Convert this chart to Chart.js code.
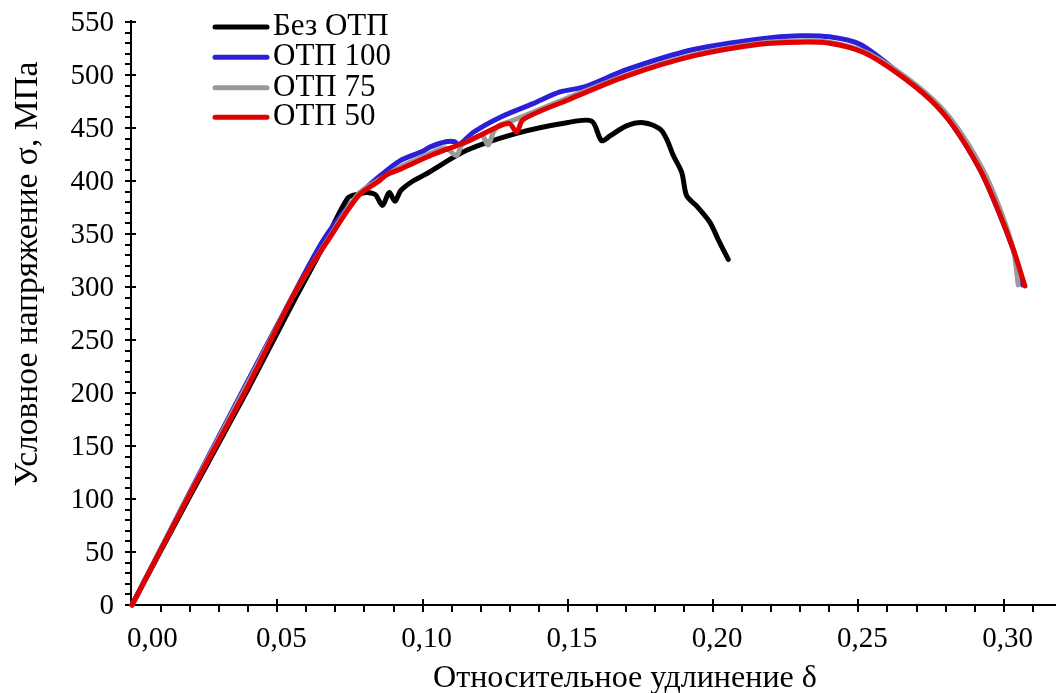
<!DOCTYPE html>
<html><head><meta charset="utf-8">
<script src="https://cdn.jsdelivr.net/npm/chart.js@4/dist/chart.umd.min.js"></script>
<style>html,body{margin:0;padding:0;background:#fff}canvas{display:block}</style>
</head><body>
<canvas id="c" width="1062" height="693"></canvas>
<script>
// ---- data (strain δ, stress σ MPa) ----
const seriesNames = ['Без ОТП', 'ОТП 100', 'ОТП 75', 'ОТП 50'];
const seriesColors = ['#000000', '#2b1fd8', '#9a9a9a', '#e00000'];

const strainBlack = [0,0.02,0.04,0.055,0.065,0.0743,0.0785,0.0815,0.0838,0.0862,0.0885,0.0905,0.0925,0.0967,0.1008,0.1152,0.1324,0.1496,0.1582,0.1616,0.1645,0.1702,0.176,0.1817,0.184,0.1863,0.1892,0.1909,0.1943,0.1989,0.2017,0.2052];
const stressBlack = [0,103,204,283,334,384,388,389,387,377,389,381,391,400,406,429,445,455,456.5,438,442.5,452,455,449,439.5,424,408,386,376.5,361,345,326];

const strainBlue = [0,0.02,0.04,0.055,0.066,0.075,0.08,0.085,0.0922,0.1,0.1025,0.108,0.111,0.1125,0.1175,0.1266,0.138,0.1473,0.156,0.1702,0.1932,0.216,0.2299,0.24,0.2505,0.263,0.2746,0.2826,0.2918,0.2975,0.3033,0.3065];
const stressBlue = [0,107,212,290,345,378,392,404,419,428,432,437,437,434,446,460,473,484,489,505,524,534,537,536,529,504,478,452,411,376,335,302];

const strainGray = [0,0.02,0.04,0.056,0.067,0.078,0.085,0.0922,0.1036,0.108,0.1117,0.1135,0.1175,0.1205,0.1226,0.1245,0.1266,0.13,0.1496,0.1702,0.1932,0.216,0.2299,0.24,0.2526,0.264,0.2756,0.2836,0.2928,0.2983,0.3033,0.305];
const stressGray = [0,106,210,294,343,388,401,413,427,431,424,434,440,443,434,447,453,456,478,500,519,530,532,531,521.5,502.5,477,452,411,376.5,335.5,302];

const strainRed = [0,0.02,0.04,0.0567,0.067,0.0779,0.085,0.0876,0.0922,0.1036,0.1152,0.1266,0.13,0.1324,0.1346,0.1496,0.1702,0.1932,0.216,0.2299,0.24,0.2516,0.263,0.2746,0.2826,0.2918,0.2975,0.3033,0.3073];
const stressRed = [0,105,207,298,342,386,400,406,411,425,437,452,454,446,458,476,499,518,529,531,530,521.5,502.5,477,452,411,376.5,335.5,301];

const xTickValues = [0,0.05,0.10,0.15,0.20,0.25,0.30];
const xTickLabels = ['0,00','0,05','0,10','0,15','0,20','0,25','0,30'];
const yTickValues = [0,50,100,150,200,250,300,350,400,450,500,550];
const yTickLabels = ['0','50','100','150','200','250','300','350','400','450','500','550'];
const xTitle = 'Относительное удлинение δ';
const yTitle = 'Условное напряжение σ, МПа';

const FONT = '"Liberation Serif","Times New Roman",serif';

function pts(xs, ys){ return xs.map((v,i)=>({x:v, y:ys[i]})); }

const dsData = [pts(strainBlack,stressBlack), pts(strainBlue,stressBlue), pts(strainGray,stressGray), pts(strainRed,stressRed)];
const orders = [4,3,2,1];

function fitFont(ctx, text, target){
  ctx.font = '30px ' + FONT;
  const w = ctx.measureText(text).width;
  return 30*target/w;
}

const axesPlugin = {
  id:'axesPlugin',
  beforeDatasetsDraw(chart){
    const {ctx, chartArea:a, scales:{x,y}} = chart;
    const x0 = x.getPixelForValue(0) - 1;
    const y0 = y.getPixelForValue(0);
    ctx.save();
    ctx.strokeStyle = '#000'; ctx.lineWidth = 2; ctx.lineCap='butt';
    ctx.beginPath();
    ctx.moveTo(x0, y0); ctx.lineTo(x0, a.top-2);
    ctx.moveTo(x0, y0); ctx.lineTo(a.right, y0);
    ctx.stroke();
    // y ticks
    ctx.beginPath();
    for (let v=0; v<=550; v+=10){
      const py = Math.round(y.getPixelForValue(v));
      if (v%50===0){ ctx.moveTo(x0-6, py); ctx.lineTo(x0+5, py); }
      else { ctx.moveTo(x0-6, py); ctx.lineTo(x0, py); }
    }
    // x ticks
    for (let i=1; i<=31; i++){
      const v = i/100;
      const px = Math.round(x.getPixelForValue(v));
      if (i%5===0){ ctx.moveTo(px, y0-6); ctx.lineTo(px, y0+7); }
      else { ctx.moveTo(px, y0); ctx.lineTo(px, y0+7); }
    }
    ctx.stroke();
    // labels
    ctx.fillStyle = '#000';
    ctx.font = '29px ' + FONT;
    ctx.textAlign = 'right'; ctx.textBaseline = 'middle';
    yTickValues.forEach((v,i)=>{
      ctx.fillText(yTickLabels[i], x0-17, y.getPixelForValue(v)+1);
    });
    ctx.textBaseline = 'alphabetic';
    xTickValues.forEach((v,i)=>{
      const px = x.getPixelForValue(v);
      if (i===0){ ctx.textAlign='left'; ctx.fillText(xTickLabels[i], px-5, 647); }
      else { ctx.textAlign='center'; ctx.fillText(xTickLabels[i], px+4, 647); }
    });
    // titles
    let fs = fitFont(ctx, xTitle, 384);
    ctx.font = fs.toFixed(1)+'px '+FONT;
    ctx.textAlign='center'; ctx.textBaseline='alphabetic';
    ctx.fillText(xTitle, 625, 687);
    fs = fitFont(ctx, yTitle, 425);
    ctx.font = fs.toFixed(1)+'px '+FONT;
    ctx.save();
    ctx.translate(37, 274);
    ctx.rotate(-Math.PI/2);
    ctx.fillText(yTitle, 0, 0);
    ctx.restore();
    ctx.restore();
  },
  afterDraw(chart){
    const {ctx} = chart;
    ctx.save();
    const rows = [27, 57.3, 87.7, 117.3];
    ctx.lineCap = 'round'; ctx.lineWidth = 5;
    ctx.font = '31px ' + FONT;
    ctx.textAlign='left'; ctx.textBaseline='alphabetic';
    seriesNames.forEach((n,i)=>{
      ctx.strokeStyle = seriesColors[i];
      ctx.beginPath(); ctx.moveTo(215, rows[i]); ctx.lineTo(267, rows[i]); ctx.stroke();
      ctx.fillStyle = '#000';
      ctx.fillText(n, 273, rows[i]+8);
    });
    ctx.restore();
  }
};

new Chart(document.getElementById('c'), {
  type:'line',
  data:{
    datasets: seriesNames.map((n,i)=>({
      label:n, data:dsData[i], borderColor:seriesColors[i], backgroundColor:seriesColors[i],
      borderWidth:5, pointRadius:0, tension:0.3, fill:false, order:orders[i],
      borderCapStyle:'round', borderJoinStyle:'round', clip:false
    }))
  },
  options:{
    responsive:false, animation:false, devicePixelRatio:1,
    parsing:true,
    layout:{padding:{left:132, right:6, top:22, bottom:88}},
    scales:{
      x:{type:'linear', min:0, max:0.318, display:false},
      y:{type:'linear', min:0, max:550, display:false}
    },
    plugins:{legend:{display:false}, tooltip:{enabled:false}}
  },
  plugins:[axesPlugin]
});
</script></body></html>
